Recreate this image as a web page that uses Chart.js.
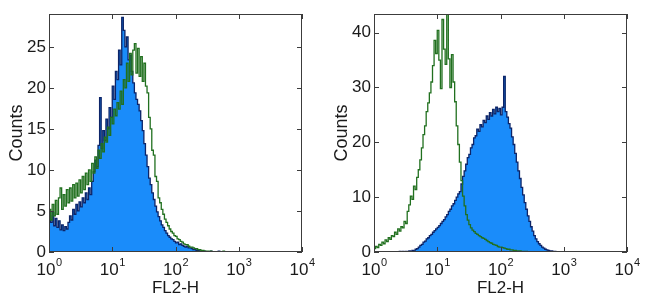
<!DOCTYPE html>
<html><head><meta charset="utf-8">
<script src="https://cdn.jsdelivr.net/npm/chart.js@4.4.1/dist/chart.umd.min.js"></script>
<style>
html,body{margin:0;padding:0;background:#fff}
#wrap{display:flex;width:650px;height:308px}
.c{position:relative;width:325px;height:308px}
</style></head><body>
<div id="wrap"><div class="c"><canvas id="c1"></canvas></div><div class="c"><canvas id="c2"></canvas></div></div>
<script>
// channel bins in log10 units (decades), from 10^0
const binStart = 0;
const binStep = 0.025;
const decades = [0, 1, 2, 3, 4];
const leftYTicks = [0, 5, 10, 15, 20, 25];
const rightYTicks = [0, 10, 20, 30, 40];
const leftYMax = 29;
const rightYMax = 43.4;
const xTitle = 'FL2-H';
const yTitle = 'Counts';

// Left panel: filled (stained) and open (control) histograms
const leftFilled = [
  4.4, 3.6, 4.8, 3.2, 4.1, 3.0, 3.8, 2.7, 3.3, 2.6,
  3.1, 2.8, 3.6, 4.4, 3.9, 5.2, 4.6, 5.8, 5.0, 6.1,
  5.5, 6.6, 6.0, 7.2, 6.4, 7.8, 7.0, 8.6, 9.8, 11.2,
  10.4, 13.0, 18.8, 12.6, 14.8, 13.6, 16.2, 15.0, 17.6, 16.4,
  20.2, 18.6, 22.0, 21.0, 24.6, 22.8, 28.6, 27.0, 25.0, 26.2,
  23.4, 24.0, 22.0, 20.6, 19.4, 18.6, 18.0, 17.2, 16.0, 14.8,
  13.2, 11.8, 10.4, 9.0, 8.2, 7.2, 6.4, 5.6, 4.9, 4.3,
  3.8, 3.3, 3.0, 2.6, 2.3, 2.0, 1.8, 1.6, 1.5, 1.3,
  1.1, 1.2, 0.9, 1.0, 0.8, 0.7, 0.6, 0.7, 0.5, 0.5,
  0.4, 0.3, 0.3, 0.2, 0.2, 0.1, 0.1, 0, 0.1, 0,
  0, 0, 0.1, 0, 0, 0, 0, 0.1, 0, 0,
  0, 0, 0, 0, 0, 0, 0, 0, 0, 0
];
const leftOpen = [
  5.2, 3.9, 5.8, 4.4, 6.3, 4.6, 6.6, 7.8, 5.2, 7.0,
  5.6, 7.6, 6.0, 7.8, 6.2, 8.2, 6.6, 8.4, 6.8, 8.8,
  7.2, 9.2, 7.6, 9.6, 8.2, 10.0, 8.6, 10.8, 9.6, 11.6,
  10.2, 12.4, 11.4, 13.2, 12.2, 14.0, 13.4, 15.2, 14.2, 16.4,
  15.6, 17.4, 16.6, 18.2, 17.4, 19.6, 18.0, 21.0, 20.0, 23.0,
  20.8, 24.2, 21.6, 24.6, 25.4, 21.8, 24.8, 21.4, 23.8, 20.8,
  23.0, 20.2, 19.4, 16.4, 15.0, 12.4, 11.8, 9.2, 8.6, 6.6,
  6.0, 5.2, 4.6, 4.0, 3.6, 3.2, 2.8, 2.5, 2.3, 2.0,
  1.9, 1.6, 1.5, 1.3, 1.2, 1.0, 0.9, 0.9, 0.7, 0.6,
  0.6, 0.5, 0.4, 0.4, 0.3, 0.3, 0.2, 0.2, 0.1, 0.1,
  0.1, 0, 0.1, 0, 0, 0, 0, 0, 0, 0,
  0.1, 0, 0, 0, 0, 0, 0, 0, 0, 0
];

// Right panel
const rightFilled = [
  0, 0, 0, 0, 0, 0, 0, 0, 0, 0,
  0, 0, 0, 0, 0, 0, 0.1, 0, 0.1, 0,
  0.1, 0, 0.2, 0.1, 0.3, 0.2, 0.5, 0.6, 0.9, 1.2,
  1.4, 1.8, 2.0, 2.4, 2.6, 3.0, 3.2, 3.6, 3.9, 4.2,
  4.5, 4.8, 5.2, 5.6, 5.9, 6.4, 6.8, 7.4, 7.8, 8.4,
  8.8, 9.4, 10.0, 10.6, 11.0, 12.4, 13.8, 14.8, 16.0, 17.2,
  17.8, 19.0, 19.6, 20.8, 21.2, 22.4, 22.0, 23.2, 22.8, 24.0,
  23.6, 24.8, 24.2, 25.4, 24.8, 26.0, 25.2, 26.4, 25.6, 26.2,
  25.0, 26.4, 32.0, 25.6, 24.6, 23.4, 22.6, 21.0, 19.6, 18.0,
  16.4, 14.8, 13.4, 11.8, 10.4, 9.0, 7.8, 6.6, 5.6, 4.6,
  3.8, 3.0, 2.4, 1.9, 1.5, 1.2, 0.9, 0.7, 0.5, 0.4,
  0.3, 0.2, 0.2, 0.1, 0.1, 0, 0, 0, 0, 0
];
const rightOpen = [
  0.6, 1.0, 0.8, 1.4, 1.2, 1.8, 1.5, 2.2, 1.9, 2.6,
  2.3, 3.0, 2.8, 3.6, 3.2, 4.2, 3.8, 4.6, 4.4, 5.6,
  5.2, 7.4, 8.6, 10.2, 9.6, 12.0, 11.4, 13.6, 15.0, 16.8,
  19.0, 21.4, 23.0, 25.6, 27.2, 29.0, 31.0, 34.0, 38.6, 36.2,
  40.4, 35.0, 29.8, 42.4, 37.0, 34.2, 43.4, 35.2, 30.0, 36.0,
  31.0, 27.4, 23.0, 19.6, 16.4, 13.0, 10.2, 8.4, 6.8, 5.8,
  5.0, 4.4, 4.0, 3.7, 3.4, 3.2, 3.0, 2.8, 2.6, 2.5,
  2.3, 2.1, 1.9, 1.7, 1.6, 1.4, 1.3, 1.2, 1.0, 0.9,
  0.9, 0.8, 0.7, 0.6, 0.5, 0.5, 0.4, 0.4, 0.3, 0.3,
  0.2, 0.2, 0.2, 0.1, 0.1, 0.1, 0.1, 0, 0, 0,
  0, 0, 0, 0, 0, 0, 0, 0, 0, 0,
  0, 0, 0, 0, 0, 0, 0, 0, 0, 0
];

const FONT = "'Liberation Sans', Arial, Helvetica, sans-serif";
const TEXT = '#1a1a1a';
const FILL = '#1a8cfa';
const EDGE = '#0c2468';
const GREEN = '#21701f';

function toPoints(vals) {
  const pts = vals.map((v, i) => ({ x: binStart + i * binStep, y: v }));
  pts.push({ x: binStart + vals.length * binStep, y: 0 });
  return pts;
}

const framePlugin = {
  id: 'frame',
  afterDatasetsDraw(chart) {
    const { ctx, chartArea: { left, right, top, bottom }, scales: { x, y } } = chart;
    ctx.save();
    ctx.strokeStyle = '#3c3c3c';
    ctx.lineWidth = 1;
    ctx.strokeRect(left + 0.5, top + 0.5, right - left - 1, bottom - top - 1);
    const L = 5;
    ctx.beginPath();
    x.ticks.forEach(t => {
      const px = Math.round(x.getPixelForValue(t.value)) + 0.5;
      ctx.moveTo(px, top); ctx.lineTo(px, top + L);
      ctx.moveTo(px, bottom); ctx.lineTo(px, bottom - L);
    });
    y.ticks.forEach(t => {
      const py = Math.round(y.getPixelForValue(t.value)) + 0.5;
      ctx.moveTo(left, py); ctx.lineTo(left + L, py);
      ctx.moveTo(right, py); ctx.lineTo(right - L, py);
    });
    ctx.stroke();
    // x tick labels: 10 with superscript exponent
    ctx.fillStyle = TEXT;
    ctx.textBaseline = 'alphabetic';
    ctx.textAlign = 'left';
    x.ticks.forEach(t => {
      const px = x.getPixelForValue(t.value);
      const base = '10', exp = String(t.value);
      ctx.font = '17px ' + FONT;
      const wb = ctx.measureText(base).width;
      ctx.font = '11px ' + FONT;
      const we = ctx.measureText(exp).width;
      const x0 = px - (wb + we) / 2;
      ctx.font = '17px ' + FONT;
      ctx.fillText(base, x0, 275);
      ctx.font = '11px ' + FONT;
      ctx.fillText(exp, x0 + wb + 0.5, 266);
    });
    ctx.restore();
  }
};

function makeChart(id, openVals, filledVals, yTicks, yMax) {
  return new Chart(document.getElementById(id), {
    type: 'line',
    data: {
      datasets: [
        { data: toPoints(openVals), stepped: true, borderColor: GREEN, borderWidth: 1.3,
          pointRadius: 0, fill: false },
        { data: toPoints(filledVals), stepped: true, borderColor: EDGE, borderWidth: 1.3,
          pointRadius: 0, fill: 'origin', backgroundColor: FILL }
      ]
    },
    options: {
      responsive: true, maintainAspectRatio: false, animation: false,
      layout: { padding: { left: 0, top: 14, right: 23, bottom: 0 } },
      plugins: { legend: { display: false }, tooltip: { enabled: false } },
      scales: {
        x: {
          type: 'linear', min: decades[0], max: decades[decades.length - 1],
          afterBuildTicks: s => { s.ticks = decades.map(v => ({ value: v })); },
          afterFit: s => { s.height = 56; },
          grid: { display: false, drawTicks: false },
          border: { display: false },
          ticks: { display: false },
          title: { display: true, text: xTitle, color: TEXT, font: { family: FONT, size: 17 },
                   padding: { top: 0, bottom: 9 } }
        },
        y: {
          min: 0, max: yMax,
          afterBuildTicks: s => { s.ticks = yTicks.map(v => ({ value: v })); },
          afterFit: s => { s.width = 49; },
          grid: { display: false, drawTicks: false },
          border: { display: false },
          ticks: { color: TEXT, font: { family: FONT, size: 17 }, padding: 3 },
          title: { display: true, text: yTitle, color: TEXT, font: { family: FONT, size: 18 },
                   padding: { top: 6, bottom: 0 } }
        }
      }
    },
    plugins: [framePlugin]
  });
}

makeChart('c1', leftOpen, leftFilled, leftYTicks, leftYMax);
makeChart('c2', rightOpen, rightFilled, rightYTicks, rightYMax);
</script>
</body></html>
